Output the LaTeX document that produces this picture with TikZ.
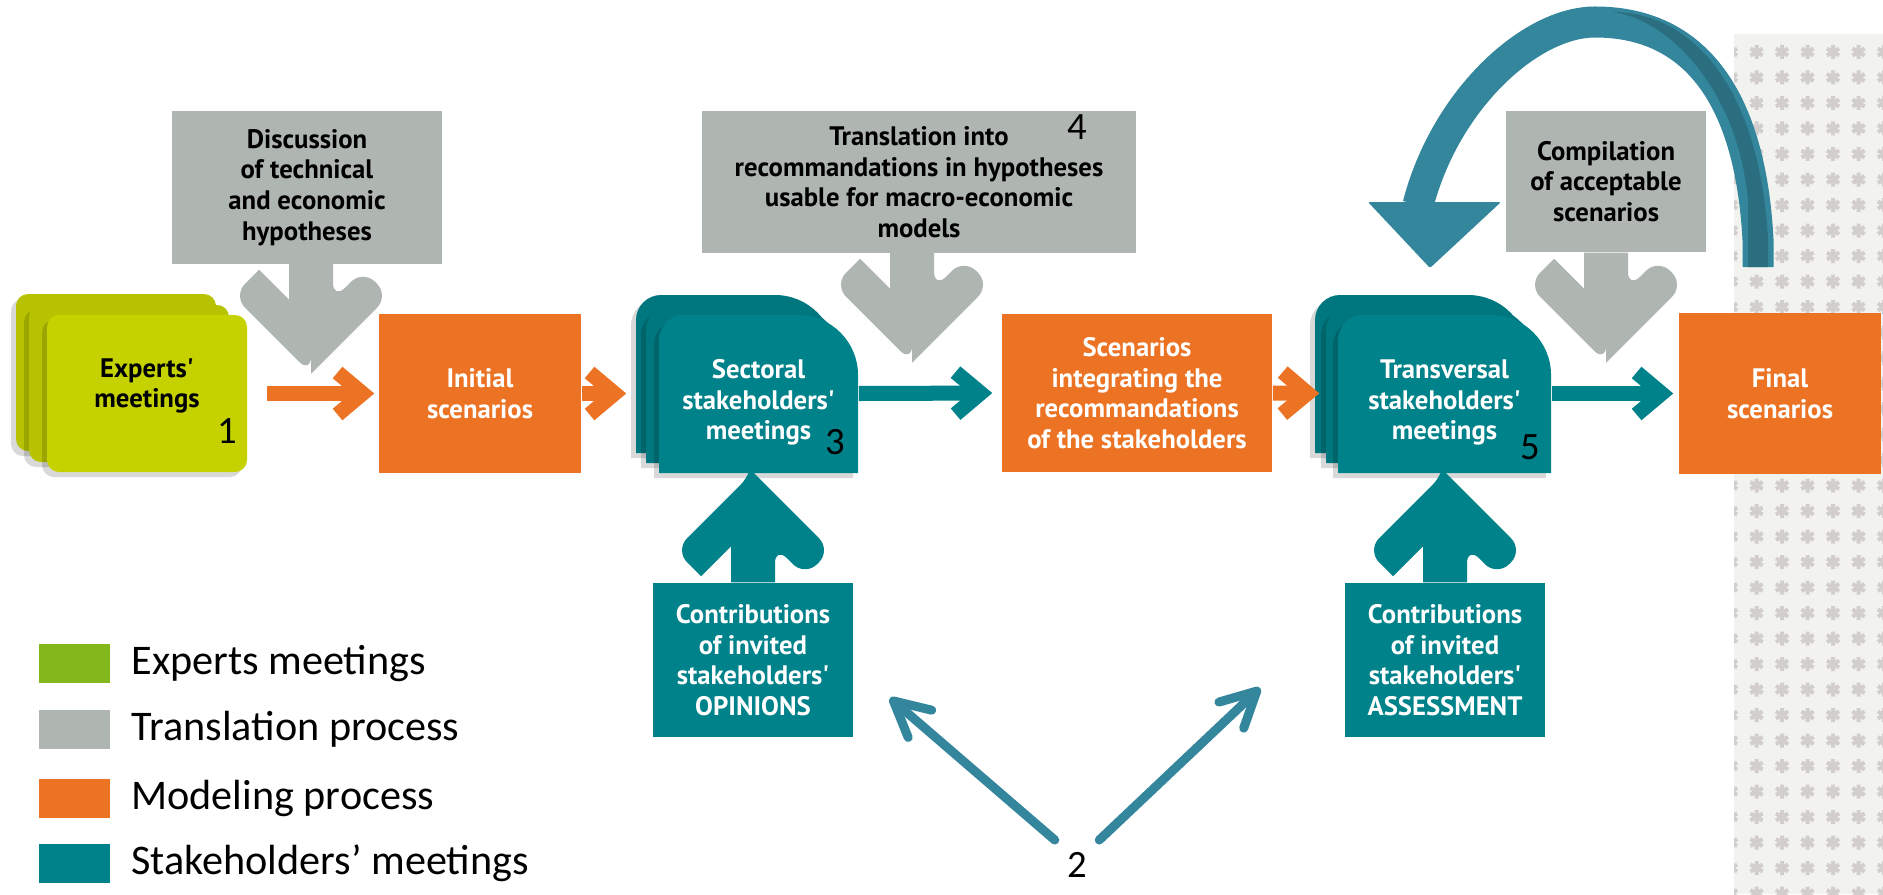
\documentclass[tikz,border=0pt]{standalone}
\usepackage{fontspec}
\usetikzlibrary{arrows.meta}
\usetikzlibrary{positioning}

\newfontfamily\boxfont{PT Sans}
\newfontfamily\legfont{Carlito}

\definecolor{greyc}{HTML}{AFB6B1}
\definecolor{orangec}{HTML}{EC7323}
\definecolor{tealc}{HTML}{00828A}
\definecolor{tealback}{HTML}{00777E}
\definecolor{greenc}{HTML}{C5D200}
\definecolor{greenback}{HTML}{B7C300}
\definecolor{leggreen}{HTML}{84B71C}
\definecolor{loopblue}{HTML}{34869D}
\definecolor{loopdark}{HTML}{2A6E80}
\definecolor{starbg}{HTML}{F2F2EE}
\definecolor{starc}{HTML}{D2CECE}

\newcommand{\boxsize}{\fontsize{7.6}{8.7}\selectfont}
\newcommand{\legsize}{\fontsize{12}{14}\selectfont}

% rounded card with a soft shadow: left, top, right, bottom, colour
\newcommand{\roundcard}[5]{%
	\fill[black,opacity=0.15,rounded corners=0.12cm] (#1-5,#2+5) rectangle (#3-5,#4+5);
	\fill[#5,rounded corners=0.12cm] (#1,#2) rectangle (#3,#4);
}
% tab shaped card: left, top, right, bottom, colour
\newcommand{\tabcard}[5]{%
	\fill[black,opacity=0.15] (#1-5,#4+5) -- (#1-5,#2+30) arc[start angle=180,end angle=270,radius=25] -- (#3-65,#2+5) arc[start angle=270,end angle=360,radius=60] -- (#3-5,#4+5) -- cycle;
	\fill[#5] (#1,#4) -- (#1,#2+25) arc[start angle=180,end angle=270,radius=25] -- (#3-60,#2) arc[start angle=270,end angle=360,radius=60] -- (#3,#4) -- cycle;
}

\tikzset{
	greybox/.style={fill=greyc, inner sep=0pt, align=center, font=\boxfont\bfseries\boxsize, text=black},
	orangebox/.style={fill=orangec, inner sep=0pt, align=center, font=\boxfont\bfseries\boxsize, text=white},
	contribbox/.style={fill=tealc, inner sep=0pt, align=center, font=\boxfont\bfseries\boxsize, text=white},
	cardnode/.style={inner sep=0pt},
	cardtext/.style={align=center, font=\boxfont\bfseries\boxsize, text=white},
	numlabel/.style={font=\legfont\fontsize{11}{13}\selectfont, text=black},
	legsq/.style={inner sep=0pt, minimum width=0.71cm, minimum height=0.39cm},
	legtext/.style={inner sep=0pt, anchor=west, font=\legfont\legsize},
	flowarrow/.style={line width=0.15cm, -{Straight Barb[length=0.25cm,width=0.42cm]}},
	pointer/.style={loopblue, line width=0.09cm, line cap=round, -{Straight Barb[length=0.35cm,width=0.36cm,round]}},
	heartarrow/.pic={
		\fill[#1] (0,0) [rounded corners=0.17cm] -- (78,-78) -- (52,-104) -- (22,-74) [sharp corners] -- (22,-110) -- (-22,-110) -- (-22,-74) -- (-52,-104) [rounded corners=0.17cm] -- (-78,-78) -- (0,0) [sharp corners] -- cycle;
	},
}

\begin{document}
\begin{tikzpicture}[x=0.01cm,y=-0.01cm]
	
	\useasboundingbox (0,0) rectangle (1883,894);
	\fill[white] (0,0) rectangle (1883,894);
	
	% starred strip on the right
	\begin{scope}
		\clip (1734,34) rectangle (1883,894);
		\fill[starbg] (1734,34) rectangle (1883,894);
		\foreach \i in {0,...,6}
		\foreach \j in {0,...,33}
		\draw[starc, line width=0.04cm] (1731+25.5*\i,52+25.5*\j) +(0,-7) -- +(0,7) +(-6.1,-3.5) -- +(6.1,3.5) +(-6.1,3.5) -- +(6.1,-3.5);
	\end{scope}
	
	% stacked cards
	\roundcard{16}{294}{216}{451}{greenback}
	\roundcard{29}{305}{229}{462}{greenback}
	\roundcard{47}{315}{247}{472}{greenc}
	
	\tabcard{636}{295}{835}{453}{tealback}
	\tabcard{646}{305}{845}{463}{tealback}
	\tabcard{659}{315}{858}{473}{tealc}
	
	\tabcard{1315}{295}{1528}{453}{tealback}
	\tabcard{1326}{305}{1539}{463}{tealback}
	\tabcard{1338}{315}{1551}{473}{tealc}
	
	\node[cardnode, minimum width=2.00cm, minimum height=1.57cm, label={[cardtext,text=black,yshift=0.075cm]center:Experts'\\meetings}] (experts) at (147,393.5) {};
	\node[cardnode, minimum width=1.99cm, minimum height=1.58cm, label={[cardtext,yshift=-0.09cm]center:Sectoral\\stakeholders'\\meetings}] (sectoral) at (758.5,393.5) {};
	\node[cardnode, minimum width=2.13cm, minimum height=1.58cm, label={[cardtext,yshift=-0.09cm]center:Transversal\\stakeholders'\\meetings}] (transv) at (1444.5,393.5) {};
	
	% process boxes
	\node[greybox, minimum width=2.70cm, minimum height=1.53cm] (disc) at (307,187.5) {Discussion\\of technical\\and economic\\hypotheses};
	\node[greybox, minimum width=4.34cm, minimum height=1.42cm] (transl) at (919,182) {Translation into\\recommandations in hypotheses\\usable for macro-economic\\models};
	\node[greybox, minimum width=2.00cm, minimum height=1.41cm] (compil) at (1606,181.5) {Compilation\\of acceptable\\scenarios};
	
	\node[orangebox, minimum width=2.02cm, minimum height=1.59cm] (init) at (480,393.5) {Initial\\scenarios};
	\node[orangebox, minimum width=2.70cm, minimum height=1.58cm] (integ) at (1137,393) {Scenarios\\integrating the\\recommandations\\of the stakeholders};
	\node[orangebox, minimum width=2.02cm, minimum height=1.60cm] (final) at (1780,393.5) {Final\\scenarios};
	
	\node[contribbox, minimum width=2.00cm, minimum height=1.54cm] (opin) at (753,660) {Contributions\\of invited\\stakeholders'\\OPINIONS};
	\node[contribbox, minimum width=2.00cm, minimum height=1.54cm] (assess) at (1445,660) {Contributions\\of invited\\stakeholders'\\ASSESSMENT};
	
	% fat arrows in and out of the boxes
	\path (disc.south) ++(4,109) pic {heartarrow=greyc};
	\path (transl.south) ++(-7,109) pic {heartarrow=greyc};
	\path (compil.south) ++(0,110) pic {heartarrow=greyc};
	\path (opin.north) ++(0,-110) pic[yscale=-1] {heartarrow=tealc};
	\path (assess.north) ++(0,-110) pic[yscale=-1] {heartarrow=tealc};
	
	% main flow
	\draw[flowarrow, orangec, shorten <=0.19cm, shorten >=0.04cm] (experts.east) -- (init.west);
	\draw[flowarrow, orangec, shorten >=0.32cm] (init.east) -- (sectoral.west);
	\draw[flowarrow, tealc, shorten >=0.09cm] (sectoral.east) -- (integ.west);
	\draw[flowarrow, orangec, shorten >=0.18cm] (integ.east) -- (transv.west);
	\draw[flowarrow, tealc, shorten >=0.05cm] (transv.east) -- (final.west);
	
	% loop back from the final scenarios
	\coordinate (loopstart) at (1758,267);
	\coordinate (looptop) at (1595,22);
	\coordinate (loopend) at (1418,205);
	\draw[loopblue, line width=0.31cm] (loopstart) -- (1758,240) .. controls (1750,90) and (1690,22) .. (looptop) .. controls (1530,22) and (1445,100) .. (loopend);
	\fill[loopdark] (1748,267) -- (1768,267) -- (1768,240) .. controls (1760,90) and (1694,12) .. (1612,12) .. controls (1665,18) and (1737,85) .. (1748,200) -- cycle;
	\fill[loopblue, rounded corners=0.02cm] (1368,202) -- (1501,202) -- (1430,268) -- cycle;
	
	% numbers
	\node[numlabel] (n1) at (227,431) {1};
	\node[numlabel] (n3) at (835,442) {3};
	\node[numlabel] (n4) at (1077,127) {4};
	\node[numlabel] (n5) at (1530,447) {5};
	\node[numlabel] (n2) at (1077,865) {2};
	
	\coordinate (opintip) at (890,698);
	\coordinate (assesstip) at (1260,688);
	\draw[pointer] (n2.north west) -- (opintip);
	\draw[pointer] (n2.north east) -- (assesstip);
	
	% legend
	\node[legsq, fill=leggreen] (sqA) at (74.5,663.5) {};
	\node[legsq, fill=greyc] (sqB) at (74.5,729) {};
	\node[legsq, fill=orangec] (sqC) at (74.5,798) {};
	\node[legsq, fill=tealc] (sqD) at (74.5,863.5) {};
	\node[legtext, right=0.2cm of sqA] (legA) {Experts meetings};
	\node[legtext, right=0.2cm of sqB] (legB) {Translation process};
	\node[legtext, right=0.2cm of sqC] (legC) {Modeling process};
	\node[legtext, right=0.2cm of sqD] (legD) {Stakeholders’ meetings};
	
\end{tikzpicture}
\end{document}
